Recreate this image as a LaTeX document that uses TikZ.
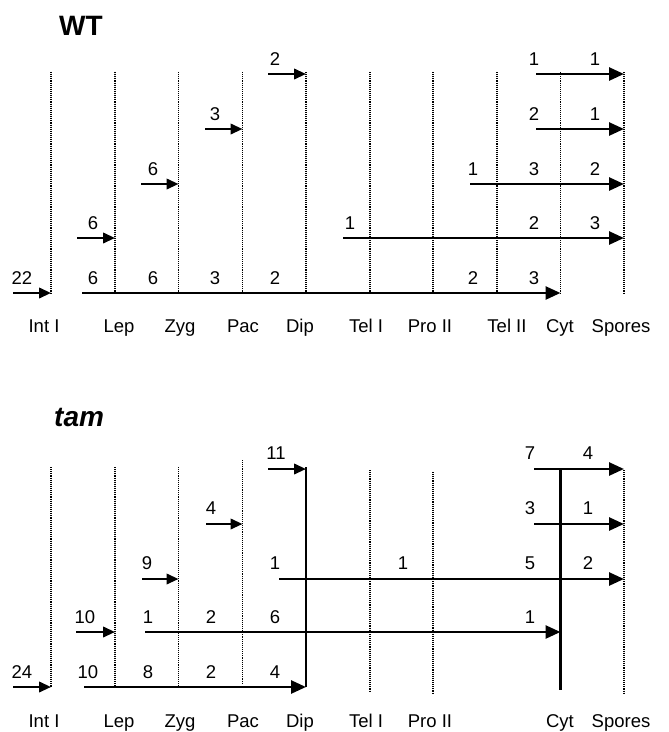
\documentclass[tikz,border=0pt]{standalone}
\usepackage{fontspec}
\setmainfont{Liberation Sans}
\usetikzlibrary{arrows.meta}
\begin{document}
\begin{tikzpicture}[x=1pt,y=-1pt,
  stage/.style={line width=1.2pt,dash pattern=on 1.1pt off 1pt},
  barline/.style={line width=2.6pt},
  shortarr/.style={line width=2.3pt,-{Triangle[length=12pt,width=10.5pt]}},
  longarr/.style={line width=2.7pt,-{Triangle[length=15pt,width=13pt]}},
  num/.style={anchor=base,inner sep=0pt,font=\fontsize{18.5}{22}\selectfont},
  stglbl/.style={anchor=base,inner sep=0pt,font=\fontsize{18.5}{22}\selectfont},
  ttl/.style={anchor=base west,inner sep=0pt,font=\fontsize{28}{32}\selectfont\bfseries}]
\useasboundingbox (0,0) rectangle (669,732);
% column positions
\def\colxs{51,115,178.5,242.5,306,370,433,497,560.5,624}
% ---------------- WT ----------------
\node[ttl] (wttitle) at (59,35) {WT};
\foreach \x [count=\i from 0] in \colxs {
  \coordinate (wtop\i) at (\x,72);
  \coordinate (wbot\i) at (\x,293);
}
\foreach \i in {0,...,9} { \draw[stage] (wtop\i) -- (wbot\i); }
\foreach \r/\y in {1/74,2/129,3/184,4/238,5/293} {
  \foreach \x [count=\i from 0] in \colxs { \coordinate (w\r-\i) at (\x,\y); }
}
\coordinate (ws5a) at (13,293);  \coordinate (ws5b) at (82,293);
\coordinate (ws4a) at (77,238);  \coordinate (ws4b) at (343,238);
\coordinate (ws3a) at (141,184); \coordinate (ws3b) at (470,184);
\coordinate (ws2a) at (205,129); \coordinate (ws2b) at (536,129);
\coordinate (ws1a) at (268,74);  \coordinate (ws1b) at (536,74);
\draw[shortarr] (ws5a) -- (w5-0);
\draw[longarr]  (ws5b) -- (w5-8);
\draw[shortarr] (ws4a) -- (w4-1);
\draw[longarr]  (ws4b) -- (w4-9);
\draw[shortarr] (ws3a) -- (w3-2);
\draw[longarr]  (ws3b) -- (w3-9);
\draw[shortarr] (ws2a) -- (w2-3);
\draw[longarr]  (ws2b) -- (w2-9);
\draw[shortarr] (ws1a) -- (w1-4);
\draw[longarr]  (ws1b) -- (w1-9);
\foreach \n/\x/\y [count=\k] in {
  22/22/284, 6/93/284, 6/153/284, 3/215/284, 2/275/284, 2/473/284, 3/534/284,
  6/93/229, 1/350/229, 2/534/229, 3/595/229,
  6/153/175, 1/473/175, 3/534/175, 2/595/175,
  3/215/120, 2/534/120, 1/595/120,
  2/275/65, 1/534/65, 1/595/65} {
  \node[num] (wn\k) at (\x,\y) {\n};
}
\foreach \t/\x [count=\k] in {Int I/44, Lep/119, Zyg/180, Pac/243, Dip/300, Tel I/366, Pro II/430, Tel II/507, Cyt/560, Spores/621} {
  \node[stglbl] (wl\k) at (\x,332) {\t};
}
% ---------------- tam ----------------
\node[ttl,font=\fontsize{28}{32}\selectfont\bfseries\itshape] (tamtitle) at (54,426) {tam};
\coordinate (ttop0) at (51,467);    \coordinate (tbot0) at (51,687);
\coordinate (ttop1) at (115,467);   \coordinate (tbot1) at (115,687);
\coordinate (ttop2) at (178.5,467); \coordinate (tbot2) at (178.5,687);
\coordinate (ttop3) at (242.5,460); \coordinate (tbot3) at (242.5,683);
\coordinate (ttop4) at (306,467);   \coordinate (tbot4) at (306,687);
\coordinate (ttop5) at (370,470);   \coordinate (tbot5) at (370,692);
\coordinate (ttop6) at (433,472);   \coordinate (tbot6) at (433,693);
\coordinate (ttop8) at (560.5,470); \coordinate (tbot8) at (560.5,690);
\coordinate (ttop9) at (624,470);   \coordinate (tbot9) at (624,693);
\foreach \i in {0,1,2,3,5,6,9} { \draw[stage] (ttop\i) -- (tbot\i); }
\draw[barline] (ttop4) -- (tbot4);
\draw[barline] (ttop8) -- (tbot8);
\foreach \r/\y in {1/469,2/524,3/579,4/632,5/687} {
  \foreach \x [count=\i from 0] in \colxs { \coordinate (t\r-\i) at (\x,\y); }
}
\coordinate (ts5a) at (13,687);  \coordinate (ts5b) at (84,687);
\coordinate (ts4a) at (76,632);  \coordinate (ts4b) at (145,632);
\coordinate (ts3a) at (142,579); \coordinate (ts3b) at (279,579);
\coordinate (ts2a) at (206,524); \coordinate (ts2b) at (534,524);
\coordinate (ts1a) at (268,469); \coordinate (ts1b) at (534,469);
\draw[shortarr] (ts5a) -- (t5-0);
\draw[longarr]  (ts5b) -- (t5-4);
\draw[shortarr] (ts4a) -- (t4-1);
\draw[longarr]  (ts4b) -- (t4-8);
\draw[shortarr] (ts3a) -- (t3-2);
\draw[longarr]  (ts3b) -- (t3-9);
\draw[shortarr] (ts2a) -- (t2-3);
\draw[longarr]  (ts2b) -- (t2-9);
\draw[shortarr] (ts1a) -- (t1-4);
\draw[longarr]  (ts1b) -- (t1-9);
\foreach \n/\x/\y [count=\k] in {
  24/22/678, 10/88/678, 8/148/678, 2/211/678, 4/275/678,
  10/85/623, 1/148/623, 2/211/623, 6/275/623, 1/530/623,
  9/147/569, 1/275/569, 1/403/569, 5/530/569, 2/588/569,
  4/211/514, 3/530/514, 1/588/514,
  11/276/459, 7/530/459, 4/588/459} {
  \node[num] (tn\k) at (\x,\y) {\n};
}
\foreach \t/\x [count=\k] in {Int I/44, Lep/119, Zyg/180, Pac/243, Dip/300, Tel I/366, Pro II/430, Cyt/560, Spores/621} {
  \node[stglbl] (tl\k) at (\x,727) {\t};
}
\end{tikzpicture}
\end{document}
